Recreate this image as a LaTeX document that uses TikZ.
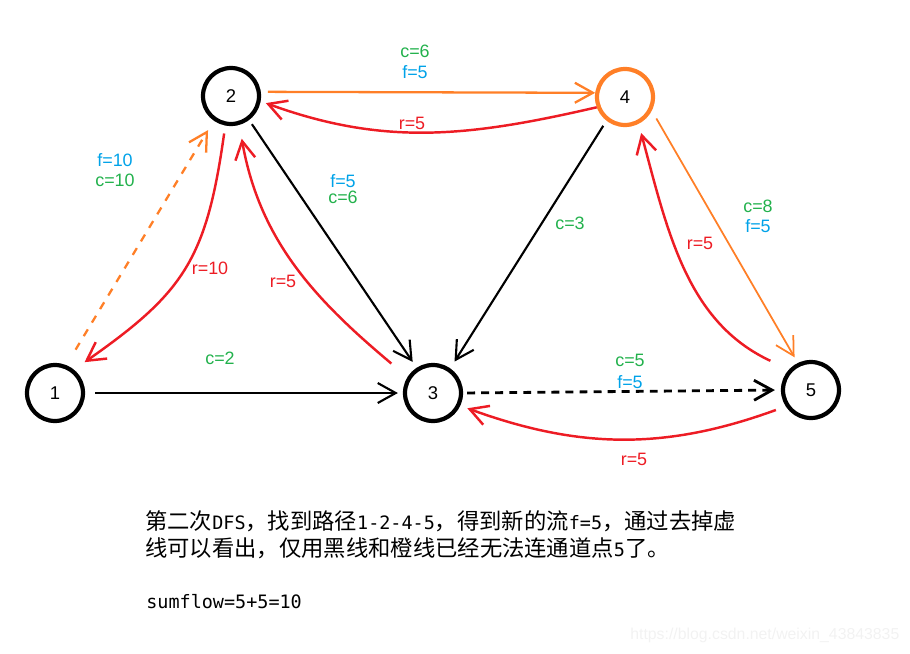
\documentclass[tikz,border=0pt]{standalone}
\usepackage{fontspec}
\setmainfont{Liberation Sans}
\newfontfamily\cjkfont{Noto Sans CJK SC}
\newfontfamily\monofont{DejaVu Sans Mono}
\usepackage{xcolor}
\usepackage{tikz}
\usetikzlibrary{arrows.meta, calc, positioning}

\definecolor{paintred}{RGB}{237,28,36}
\definecolor{paintorange}{RGB}{255,127,39}
\definecolor{paintgreen}{RGB}{34,177,76}
\definecolor{paintblue}{RGB}{0,162,232}
\newcommand{\zhtxt}[1]{{\cjkfont\fontsize{12.7}{16}\selectfont #1}}
\newcommand{\entxt}[1]{{\monofont\fontsize{10.5}{16}\selectfont #1}}

\begin{document}
\begin{tikzpicture}[x=0.02cm, y=-0.02cm,
    >={Straight Barb[length=0.36cm, width=0.4cm]},
    vertex/.style={circle, draw=black, line width=2.4pt, minimum size=1.12cm, inner sep=0pt, font=\fontsize{10.5}{12}\selectfont},
    lbl/.style={font=\fontsize{10.2}{12}\selectfont, inner sep=1pt},
    lblc/.style={lbl, text=paintgreen},
    lblf/.style={lbl, text=paintblue},
    lblr/.style={lbl, text=paintred},
    fwd/.style={->, line width=1.2pt},
    resid/.style={->, line width=1.4pt, draw=paintred},
    aug/.style={->, line width=1.3pt, draw=paintorange}]
    \useasboundingbox (0,0) rectangle (910,653);

    % Các đỉnh
    \node[vertex] (n1) at (55,393) {1};
    \node[vertex] (n2) at (231,96) {2};
    \node[vertex] (n3) at (433,393) {3};
    \node[vertex, draw=paintorange] (n4) at (625,97) {4};
    \node[vertex] (n5) at (811,390) {5};

    % Cung thuận
    \draw[fwd, shorten <=0.2cm, shorten >=0.1cm] (n1.east) -- (n3.west);
    \draw[fwd, shorten <=0.1cm, shorten >=0.14cm] (n2.-53) -- (n3.123);
    \draw[fwd, shorten <=0.12cm, shorten >=0.16cm] (n4.232) -- (n3.55);
    \draw[fwd, line width=1.6pt, dash pattern=on 4.5pt off 3.5pt, shorten <=0.08cm, shorten >=0.12cm] (n3.east) -- (n5.west);

    % Đường tăng luồng 1-2-4-5
    \draw[aug, dash pattern=on 4.5pt off 4.5pt, shorten <=0.36cm, shorten >=0.22cm] (n1.68) -- (n2.235);
    \draw[aug, shorten <=0.14cm] (n2.8) -- (n4.172);
    \draw[aug, line width=1pt, shorten <=0.18cm, shorten >=0.13cm] (n4.-27) -- (n5.116);

    % Cung ngược
    \draw[resid, shorten <=0.16cm, shorten >=0.26cm] (n2.259) to[out=-98, in=35, looseness=1.2] (n1.51);
    \draw[resid, shorten <=0.42cm, shorten >=0.28cm] (n3.148) to[out=140, in=-80] (n2.-74);
    \draw[resid, shorten >=0.11cm] (n4.200) to[out=193, in=-20] (n2.-10);
    \draw[resid, shorten <=0.41cm, shorten >=0.19cm] (n5.137) to[out=155, in=-75] (n4.-63);
    \draw[resid, shorten <=0.21cm, shorten >=0.15cm] (n5.213) to[out=200, in=-20] (n3.-25);

    % Nhãn
    \node[lblf] (f12) at (115,160) {f=10};
    \node[lblc] (c12) at (115,180) {c=10};
    \node[lblr] (r21) at (210,268) {r=10};
    \node[lblc] (c13) at (220,358) {c=2};
    \node[lblr] (r32) at (283,281) {r=5};
    \node[lblf] (f23) at (343,181) {f=5};
    \node[lblc] (c23) at (343,197) {c=6};
    \node[lblc] (c24) at (415,51) {c=6};
    \node[lblf] (f24) at (415,72) {f=5};
    \node[lblr] (r42) at (412,123) {r=5};
    \node[lblc] (c43) at (570,223) {c=3};
    \node[lblc] (c45) at (758,206) {c=8};
    \node[lblf] (f45) at (758,226) {f=5};
    \node[lblr] (r54) at (700,243) {r=5};
    \node[lblc] (c35) at (630,360) {c=5};
    \node[lblf] (f35) at (630,382) {f=5};
    \node[lblr] (r53) at (634,459) {r=5};

    % Chú thích
    \node[anchor=base west, inner sep=0pt] (dong1) at (145,529) {\zhtxt{第二次}\entxt{DFS}\zhtxt{，找到路径}\entxt{1-2-4-5}\zhtxt{，得到新的流}\entxt{f=5}\zhtxt{，通过去掉虚}};
    \node[anchor=base west, inner sep=0pt] (dong2) at (145,556) {\zhtxt{线可以看出，仅用黑线和橙线已经无法连通道点}\entxt{5}\zhtxt{了。}};
    \node[anchor=base west, inner sep=0pt] (tong) at (146,608) {\entxt{sumflow=5+5=10}};
    \node[anchor=base west, inner sep=0pt, text=black!5, font=\fontsize{9}{10}\selectfont] (wm) at (630,639) {https://blog.csdn.net/weixin\_43843835};
\end{tikzpicture}
\end{document}
